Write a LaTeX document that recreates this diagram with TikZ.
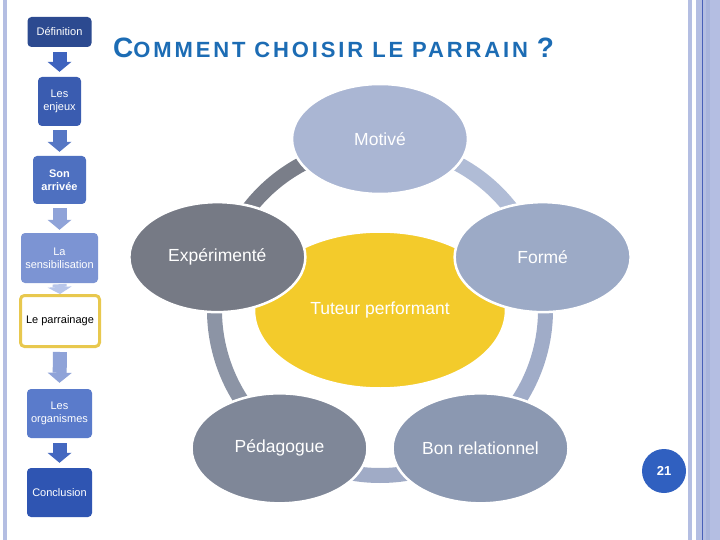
\documentclass[tikz,border=0pt]{standalone}
\usepackage{fontspec}
\setmainfont{Liberation Sans}
\usepackage{tikz}
\usetikzlibrary{arrows.meta,positioning,shapes.geometric}
\definecolor{barblue}{RGB}{180,190,226}
\definecolor{barshade}{RGB}{168,180,220}
\definecolor{barline}{RGB}{72,96,184}
\definecolor{navyA}{RGB}{44,74,144}
\definecolor{navyB}{RGB}{58,92,176}
\definecolor{navyC}{RGB}{78,112,192}
\definecolor{navyD}{RGB}{124,148,211}
\definecolor{navyE}{RGB}{90,123,203}
\definecolor{navyF}{RGB}{47,85,178}
\definecolor{parrborder}{RGB}{232,200,78}
\definecolor{arwA}{RGB}{62,99,190}
\definecolor{arwB}{RGB}{86,119,196}
\definecolor{arwC}{RGB}{143,163,216}
\definecolor{arwS}{RGB}{184,198,234}
\definecolor{arwF}{RGB}{68,104,192}
\definecolor{segA}{RGB}{122,126,137}
\definecolor{segB}{RGB}{176,188,214}
\definecolor{segC}{RGB}{160,172,200}
\definecolor{segD}{RGB}{160,171,198}
\definecolor{segE}{RGB}{140,148,165}
\definecolor{tutyellow}{RGB}{243,203,43}
\definecolor{motblue}{RGB}{170,182,211}
\definecolor{expgrey}{RGB}{118,122,133}
\definecolor{formblue}{RGB}{156,170,198}
\definecolor{pedgrey}{RGB}{127,135,152}
\definecolor{bonblue}{RGB}{139,152,177}
\definecolor{numblue}{RGB}{48,96,192}
\definecolor{titleblue}{RGB}{28,108,180}

\begin{document}
\begin{tikzpicture}[x=1pt,y=-1pt,
    box/.style={rectangle,rounded corners=4pt,align=center,text=white,inner sep=0pt,
      font=\fontsize{11}{13}\selectfont},
    blk/.style={line width=14pt,-{Triangle[width=24pt,length=10pt,line width=0pt]}},
    ell/.style={ellipse,draw=white,line width=2.5pt,text=white,inner sep=0pt,
      minimum width=176,minimum height=110,font=\fontsize{17.5}{20}\selectfont},
    seg/.style={line width=15pt}]
    \fill[white] (0,0) rectangle (720,540);
    \useasboundingbox (0,0) rectangle (720,540);
    \fill[barblue] (3,0) rectangle (7.3,540);
    \fill[barblue] (688,0) rectangle (691.7,540);
    \fill[barblue] (696,0) rectangle (720,540);
    \fill[barshade] (706,0) rectangle (710,540);
    \fill[barline] (701.7,0) rectangle (702.7,540);

    \node[anchor=base west,inner sep=0pt,text=titleblue,font=\bfseries] (title) at (113,58)
      {\fontsize{28}{28}\selectfont C{\fontsize{22}{22}\selectfont\addfontfeature{LetterSpace=13}OMMENT CHOISIR LE PARRAIN }?};

    \node[box,fill=navyA,minimum width=64,minimum height=30] (def) at (59.5,32) {Définition};
    \node[box,fill=navyB,minimum width=43,minimum height=49] (enj) at (59.5,101.5) {Les\\enjeux};
    \node[box,fill=navyC,minimum width=53,minimum height=48,
      font=\bfseries\fontsize{11}{13}\selectfont] (arr) at (59.5,180) {Son\\arrivée};
    \node[box,fill=navyD,minimum width=77,minimum height=50] (sens) at (59.5,258) {La\\sensibilisation};
    \node[box,fill=white,draw=parrborder,line width=3pt,text=black,
      minimum width=79,minimum height=51] (parr) at (60,321) {Le parrainage};
    \node[box,fill=navyE,minimum width=65,minimum height=49] (org) at (59.5,413.5) {Les\\organismes};
    \node[box,fill=navyF,minimum width=65,minimum height=49] (concl) at (59.5,492.5) {Conclusion};
    \draw[blk,arwA] ([yshift=-5pt]def.south) -- ([yshift=5pt]enj.north);
    \draw[blk,arwB] ([yshift=-4pt]enj.south) -- ([yshift=4pt]arr.north);
    \draw[blk,arwC] ([yshift=-4pt]arr.south) -- ([yshift=3pt]sens.north);
    \draw[line width=14pt,arwS,-{Triangle[width=24pt,length=7pt,line width=0pt]}]
      ([yshift=-1pt]sens.south) -- (parr.north);
    \draw[blk,arwC] ([yshift=-4pt]parr.south) -- ([yshift=6pt]org.north);
    \draw[blk,arwF] ([yshift=-5pt]org.south) -- ([yshift=5pt]concl.north);

    \coordinate (c) at (380,310);
    \foreach \a/\b/\col in {198/270/segA,270/342/segB,-18/54/segC,54/126/segD,126/198/segE}
      \draw[seg,draw=\col] ([shift={(\a:165.5)}]c) arc[start angle=\a,end angle=\b,radius=165.5];
    \node[ell,fill=tutyellow,minimum width=252,minimum height=157] (tut) at (c) {Tuteur performant};
    \foreach \n/\a/\t/\col in {mot/270/Motivé/motblue,exp/198/Expérimenté/expgrey,
        form/342/Formé/formblue,ped/126/Pédagogue/pedgrey,bon/54/Bon relationnel/bonblue}
      \node[ell,fill=\col] (\n) at ([shift={(\a:171)}]c) {\t};

    \node[circle,fill=numblue,minimum size=44,inner sep=0pt,text=white,
      font=\bfseries\fontsize{13}{13}\selectfont] (num) at (664,471) {21};
  \end{tikzpicture}
\end{document}
